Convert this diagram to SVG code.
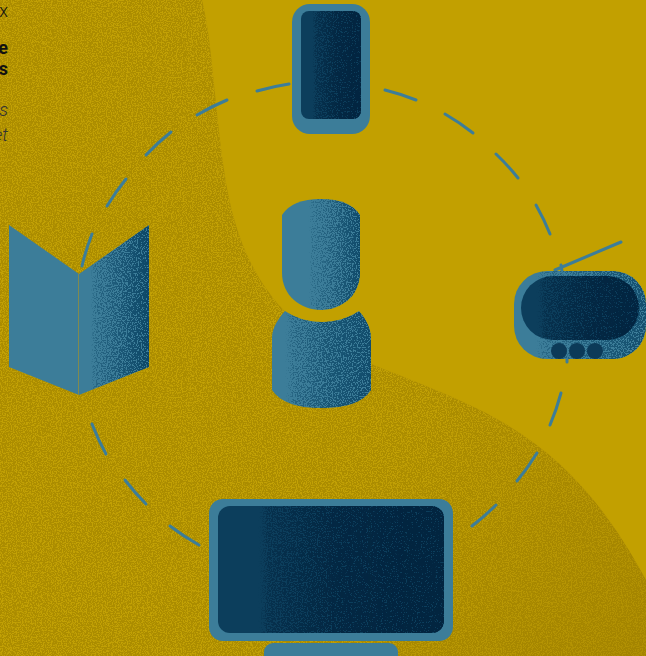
<svg xmlns="http://www.w3.org/2000/svg" width="646" height="656" viewBox="0 0 646 656">
<style>
.base{fill:#3c7d99}
.inner{fill:#0c3e5c}
.arc{fill:none;stroke:#3c7d99;stroke-width:3;stroke-linecap:round}
.txt{font-family:Roboto,"Liberation Sans",sans-serif;fill:#111;text-anchor:end}
.bold{font-weight:700;font-size:18px}
.ital{font-weight:300;font-style:italic;font-size:18px;fill:#333}
.reg{font-weight:300;font-size:18px}
</style>
<defs>
<linearGradient id="gBook" gradientUnits="userSpaceOnUse" x1="90" y1="0" x2="150" y2="0"><stop offset="0" stop-opacity="0"/><stop offset=".08" stop-opacity=".4"/><stop offset="1" stop-opacity=".95"/></linearGradient>
<linearGradient id="gHead" gradientUnits="userSpaceOnUse" x1="308" y1="0" x2="362" y2="0"><stop offset="0" stop-opacity="0"/><stop offset=".08" stop-opacity=".3"/><stop offset="1" stop-opacity=".9"/></linearGradient>
<linearGradient id="gBody" gradientUnits="userSpaceOnUse" x1="284" y1="0" x2="372" y2="0"><stop offset="0" stop-opacity="0"/><stop offset=".1" stop-opacity=".42"/><stop offset=".5" stop-opacity=".68"/><stop offset="1" stop-opacity=".85"/></linearGradient>
<linearGradient id="gPhone" gradientUnits="userSpaceOnUse" x1="312" y1="0" x2="355" y2="0"><stop offset="0" stop-opacity="0"/><stop offset=".08" stop-opacity=".5"/><stop offset=".6" stop-opacity=".85"/><stop offset="1" stop-opacity=".95"/></linearGradient>
<linearGradient id="gTv" gradientUnits="userSpaceOnUse" x1="535" y1="0" x2="646" y2="0"><stop offset="0" stop-opacity="0"/><stop offset=".08" stop-opacity=".38"/><stop offset="1" stop-opacity=".8"/></linearGradient>
<linearGradient id="gTvIn" gradientUnits="userSpaceOnUse" x1="536" y1="0" x2="625" y2="0"><stop offset="0" stop-opacity="0"/><stop offset=".1" stop-opacity=".5"/><stop offset=".6" stop-opacity=".85"/><stop offset="1" stop-opacity=".95"/></linearGradient>
<linearGradient id="gMon" gradientUnits="userSpaceOnUse" x1="258" y1="0" x2="410" y2="0"><stop offset="0" stop-opacity="0"/><stop offset=".06" stop-opacity=".5"/><stop offset=".5" stop-opacity=".85"/><stop offset="1" stop-opacity=".97"/></linearGradient>
<linearGradient id="gShade" gradientUnits="userSpaceOnUse" x1="300" y1="400" x2="646" y2="656"><stop offset=".25" stop-color="#9a7a00" stop-opacity="0"/><stop offset="1" stop-color="#9a7a00" stop-opacity=".45"/></linearGradient>
<filter id="sand" x="0" y="0" width="100%" height="100%" color-interpolation-filters="sRGB">
<feTurbulence type="fractalNoise" baseFrequency=".8" numOctaves="2" seed="4" result="n"/>
<feColorMatrix in="n" type="matrix" values="0 0 0 0 .76  0 0 0 0 .63  0 0 0 0 .02  9 0 0 0 -4.3" result="c"/>
<feComposite in="c" in2="SourceAlpha" operator="in" result="speck"/>
<feMerge><feMergeNode in="SourceGraphic"/><feMergeNode in="speck"/></feMerge>
</filter>
<filter id="dissolve" x="0" y="0" width="100%" height="100%" color-interpolation-filters="sRGB">
<feTurbulence type="fractalNoise" baseFrequency=".8" numOctaves="2" seed="9" result="n"/>
<feColorMatrix in="n" type="matrix" values="0 0 0 0 0  0 0 0 0 0  0 0 0 0 0  3.2 0 0 0 -1.1" result="na"/>
<feComposite in="SourceAlpha" in2="na" operator="arithmetic" k1="0" k2="1" k3="1" k4="-1" result="sum"/>
<feComponentTransfer in="sum" result="m"><feFuncA type="linear" slope="7" intercept="0"/></feComponentTransfer>
<feFlood flood-color="#0a4464"/>
<feComposite in2="m" operator="in" result="d"/>
<feComposite in="d" in2="SourceAlpha" operator="in"/>
</filter>
<filter id="dissolveDark" x="0" y="0" width="100%" height="100%" color-interpolation-filters="sRGB">
<feTurbulence type="fractalNoise" baseFrequency=".8" numOctaves="2" seed="15" result="n"/>
<feColorMatrix in="n" type="matrix" values="0 0 0 0 0  0 0 0 0 0  0 0 0 0 0  3.2 0 0 0 -1" result="na"/>
<feComposite in="SourceAlpha" in2="na" operator="arithmetic" k1="0" k2="1" k3="1" k4="-1" result="sum"/>
<feComponentTransfer in="sum" result="m"><feFuncA type="linear" slope="7" intercept="0"/></feComponentTransfer>
<feFlood flood-color="#02243f"/>
<feComposite in2="m" operator="in" result="d"/>
<feComposite in="d" in2="SourceAlpha" operator="in"/>
</filter>
</defs>

<g id="background">
<rect width="646" height="656" fill="#c2a000"/>
<path d="M202 0C212 40 214 100 224 170C234 240 258 296 312 335C350 360 420 380 480 410C560 450 605 505 646 580V656H0V0Z" fill="#ab8c00" filter="url(#sand)"/>
<path d="M312 335C350 360 420 380 480 410C560 450 605 505 646 580V656H0V335Z" fill="url(#gShade)"/>
</g>

<g id="clipped-text">
<text class="txt reg" x="8" y="17">x</text>
<text class="txt bold" x="8" y="54">e</text>
<text class="txt bold" x="8" y="75">s</text>
<text class="txt ital" x="8" y="116">s</text>
<text class="txt ital" x="8" y="141">et</text>
</g>

<g id="connectors">
<path class="arc" d="M257 91A240 240 0 0 1 289 84"/>
<path class="arc" d="M197 115A240 240 0 0 1 227 100"/>
<path class="arc" d="M146 155A240 240 0 0 1 171 132"/>
<path class="arc" d="M107 206A240 240 0 0 1 126 179"/>
<path class="arc" d="M82 266A240 240 0 0 1 92 234"/>
<path class="arc" d="M385 90A240 240 0 0 1 416 100"/>
<path class="arc" d="M445 114A240 240 0 0 1 473 133"/>
<path class="arc" d="M496 154A240 240 0 0 1 518 178"/>
<path class="arc" d="M536 205A240 240 0 0 1 550 234"/>
<path class="arc" d="M567 357L567 362"/>
<path class="arc" d="M561 393A240 240 0 0 1 550 425"/>
<path class="arc" d="M537 453A240 240 0 0 1 517 481"/>
<path class="arc" d="M496 505A240 240 0 0 1 472 526"/>
<path class="arc" d="M199 545A240 240 0 0 1 170 526"/>
<path class="arc" d="M146 504A240 240 0 0 1 125 480"/>
<path class="arc" d="M106 454A240 240 0 0 1 92 424"/>
</g>

<g id="phone">
<rect class="base" x="292" y="4" width="78" height="130" rx="18"/>
<rect class="inner" x="301" y="11" width="60" height="108" rx="8"/>
<rect x="301" y="11" width="60" height="108" rx="8" fill="url(#gPhone)" filter="url(#dissolveDark)"/>
</g>

<g id="person">
<path class="base" d="M282 215Q292 199 321 199Q350 199 360 215V273C360 295 342 310 321 310C300 310 282 295 282 273Z"/>
<path d="M282 215Q292 199 321 199Q350 199 360 215V273C360 295 342 310 321 310C300 310 282 295 282 273Z" fill="url(#gHead)" filter="url(#dissolve)"/>
<path class="base" d="M285 311C296 318 308 322 322 322C336 322 348 318 359 311C366 319 371 328 371 338V390Q360 408 321 408Q284 408 272 390V338C272 328 278 319 285 311Z"/>
<path d="M285 311C296 318 308 322 322 322C336 322 348 318 359 311C366 319 371 328 371 338V390Q360 408 321 408Q284 408 272 390V338C272 328 278 319 285 311Z" fill="url(#gBody)" filter="url(#dissolve)"/>
</g>

<g id="book">
<path class="base" d="M9 225L79 274L149 225V367L79 395L9 367Z"/>
<path d="M79 274L149 225V367L79 395Z" fill="url(#gBook)" filter="url(#dissolve)"/>
<path d="M78.5 274V395" stroke="#7f8a50" stroke-width="1" fill="none"/>
</g>

<g id="tv">
<path class="arc" d="M621 242L555 270M561 265L562 271"/>
<rect class="base" x="514" y="271" width="132" height="88" rx="33"/>
<rect x="514" y="271" width="132" height="88" rx="33" fill="url(#gTv)" filter="url(#dissolve)"/>
<rect class="inner" x="521" y="276" width="118" height="64" rx="32"/>
<rect x="521" y="276" width="118" height="64" rx="32" fill="url(#gTvIn)" filter="url(#dissolveDark)"/>
<circle cx="559" cy="351" r="8" fill="#0c3a58"/>
<circle cx="577" cy="351" r="8" fill="#0c3a58"/>
<circle cx="595" cy="351" r="8" fill="#0c3a58"/>
</g>

<g id="monitor">
<rect class="base" x="209" y="499" width="244" height="142" rx="14"/>
<rect class="inner" x="218" y="506" width="226" height="127" rx="12"/>
<rect x="218" y="506" width="226" height="127" rx="12" fill="url(#gMon)" filter="url(#dissolveDark)"/>
<rect class="base" x="264" y="643" width="134" height="24" rx="9"/>
</g>
</svg>
